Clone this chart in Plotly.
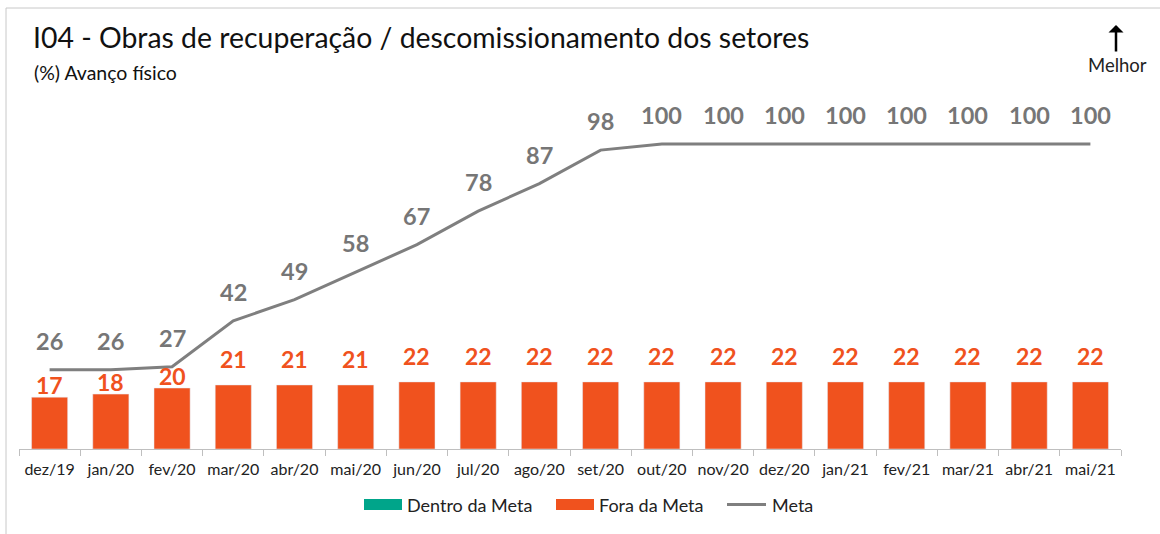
import plotly.graph_objects as go

categories = ["dez/19", "jan/20", "fev/20", "mar/20", "abr/20", "mai/20", "jun/20", "jul/20", "ago/20",
              "set/20", "out/20", "nov/20", "dez/20", "jan/21", "fev/21", "mar/21", "abr/21", "mai/21"]
fora_da_meta = [17, 18, 20, 21, 21, 21, 22, 22, 22, 22, 22, 22, 22, 22, 22, 22, 22, 22]
dentro_da_meta = [None] * len(categories)
meta = [26, 26, 27, 42, 49, 58, 67, 78, 87, 98, 100, 100, 100, 100, 100, 100, 100, 100]
legend_names = ["Dentro da Meta", "Fora da Meta", "Meta"]

# label offsets (pixels above bar tops) – first three lowered to avoid the line
bar_label_shift = [12, 12, 12] + [26] * 15

ORANGE = "#F0521E"
TEAL = "#00A58A"
GREY = "#7F7F7F"
FONT = "Lato"

L, R, T, B = 19, 39, 100, 85
W, H = 1160, 534
pw, ph = W - L - R, H - T - B
def px(x):
    return (x - L) / pw
def py(y):
    return (H - B - y) / ph

fig = go.Figure()
fig.add_trace(go.Bar(x=categories, y=dentro_da_meta, name=legend_names[0], marker_color=TEAL))
fig.add_trace(go.Bar(x=categories, y=fora_da_meta, name=legend_names[1], marker_color=ORANGE))
fig.add_trace(go.Scatter(x=categories, y=meta, name=legend_names[2], mode="lines",
                         line=dict(color=GREY, width=3)))

annotations = []
for c, v in zip(categories, meta):
    annotations.append(dict(x=c, y=v, text=f"<b>{v}</b>", showarrow=False, yshift=29,
                            font=dict(family=FONT, size=23.5, color="#767676")))
for c, v, s in zip(categories, fora_da_meta, bar_label_shift):
    annotations.append(dict(x=c, y=v, text=f"<b>{v}</b>", showarrow=False, yshift=s,
                            font=dict(family=FONT, size=23, color=ORANGE)))

annotations += [
    dict(xref="paper", yref="paper", x=px(31), y=py(37), xanchor="left", yanchor="middle",
         text="I04 - Obras de recuperação / descomissionamento dos setores", showarrow=False,
         font=dict(family=FONT, size=28.4, color="#111111")),
    dict(xref="paper", yref="paper", x=px(32), y=py(73), xanchor="left", yanchor="middle",
         text="(%) Avanço físico", showarrow=False,
         font=dict(family=FONT, size=19.5, color="#111111")),
    dict(xref="paper", yref="paper", x=px(1117), y=py(65), xanchor="center", yanchor="middle",
         text="Melhor", showarrow=False, font=dict(family=FONT, size=18.5, color="#222222")),
    dict(xref="paper", yref="paper", x=px(1116), y=py(25), ax=0, ay=28, text="",
         showarrow=True, arrowhead=1, arrowsize=1, arrowwidth=2.5, arrowcolor="#000000"),
]

shapes = [
    dict(type="line", xref="paper", yref="paper", x0=px(6), x1=px(1170), y0=py(8), y1=py(8),
         line=dict(color="#C8C8C8", width=1)),
    dict(type="line", xref="paper", yref="paper", x0=px(6), x1=px(6), y0=py(8), y1=py(540),
         line=dict(color="#C8C8C8", width=1)),
]

# custom legend (wide swatches as in the reference)
legend_swatch_x = [(364, 402), (556, 594), (727, 766)]
legend_text_x = [405, 597, 770]
legend_colors = [TEAL, ORANGE, GREY]
for i, name in enumerate(legend_names):
    x0, x1 = legend_swatch_x[i]
    if i < 2:
        shapes.append(dict(type="rect", xref="paper", yref="paper", x0=px(x0), x1=px(x1),
                           y0=py(510), y1=py(499), fillcolor=legend_colors[i], line=dict(width=0)))
    else:
        shapes.append(dict(type="line", xref="paper", yref="paper", x0=px(x0), x1=px(x1),
                           y0=py(504.5), y1=py(504.5), line=dict(color=GREY, width=3)))
    annotations.append(dict(xref="paper", yref="paper", x=px(legend_text_x[i]), y=py(505),
                            xanchor="left", yanchor="middle", text=name, showarrow=False,
                            font=dict(family=FONT, size=18, color="#222222")))

fig.update_layout(
    width=W, height=H,
    margin=dict(l=L, r=R, t=T, b=B),
    paper_bgcolor="white", plot_bgcolor="white",
    barmode="overlay", bargap=0.41,
    font=dict(family=FONT, color="#222222"),
    showlegend=False,
    annotations=annotations,
    shapes=shapes,
    xaxis=dict(type="category", range=[-0.5, len(categories) - 0.5], showgrid=False,
               showline=True, linecolor="#BFBFBF", linewidth=1,
               ticks="outside", tickson="boundaries", ticklen=6, tickcolor="#BFBFBF",
               ticklabelstandoff=6, tickangle=0,
               tickfont=dict(family=FONT, size=16, color="#222222"), fixedrange=True),
    yaxis=dict(range=[0, ph / 3.05], visible=False, showgrid=False, zeroline=False),
)

fig.write_html("out.html", config={"displayModeBar": False},
               post_script="document.body.style.margin='0';")
